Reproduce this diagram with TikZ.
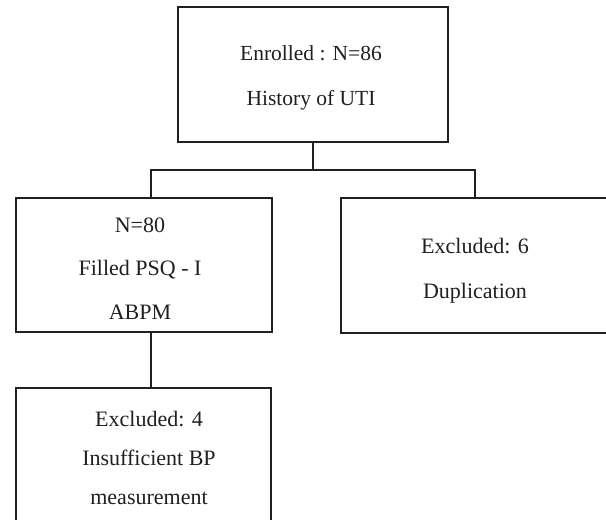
\documentclass[tikz,border=0pt]{standalone}
\usepackage{fontspec}
\setmainfont{Liberation Serif}
\definecolor{ink}{HTML}{231F20}
\begin{document}
\begin{tikzpicture}[x=1pt,y=-1pt,
  box/.style={draw=ink,line width=2.8pt,fill=none,inner sep=0pt},
  txt/.style={text=ink,align=center,inner sep=0pt},
  conn/.style={draw=ink,line width=2.8pt}]
\clip (0,0) rectangle (606,520);
\fill[white] (0,0) rectangle (606,520);
% boxes
\node[box,minimum width=270pt,minimum height=135pt] (T) at (313,74.5) {};
\node[box,minimum width=256pt,minimum height=134pt] (L) at (144,265) {};
\node[box,minimum width=268pt,minimum height=135pt] (R) at (475,265.5) {};
\node[box,minimum width=255pt,minimum height=140pt] (B) at (143.5,458) {};
% texts
\node[txt,font=\fontsize{21.5}{45}\selectfont] (Tt) at (311,77.5) {Enrolled : N=86\\History of UTI};
\node[txt,font=\fontsize{22}{43.5}\selectfont] (Lt) at (140,268.5) {N=80\\Filled PSQ - I\\ABPM};
\node[txt,font=\fontsize{22}{45}\selectfont] (Rt) at (475,270.5) {Excluded: 6\\Duplication};
\node[txt,font=\fontsize{22}{39}\selectfont] (Bt) at (149,458) {Excluded: 4\\Insufficient BP\\measurement};
% connectors
\coordinate (jL) at (151,170);
\coordinate (jR) at (475,170);
\draw[conn] (T.south) -- (T.south |- jL);
\draw[conn,line cap=rect] (jL) -- (jR);
\draw[conn] (jL) -- (jL |- L.north);
\draw[conn] (jR) -- (jR |- R.north);
\draw[conn] (jL |- L.south) -- (jL |- B.north);
\end{tikzpicture}
\end{document}
